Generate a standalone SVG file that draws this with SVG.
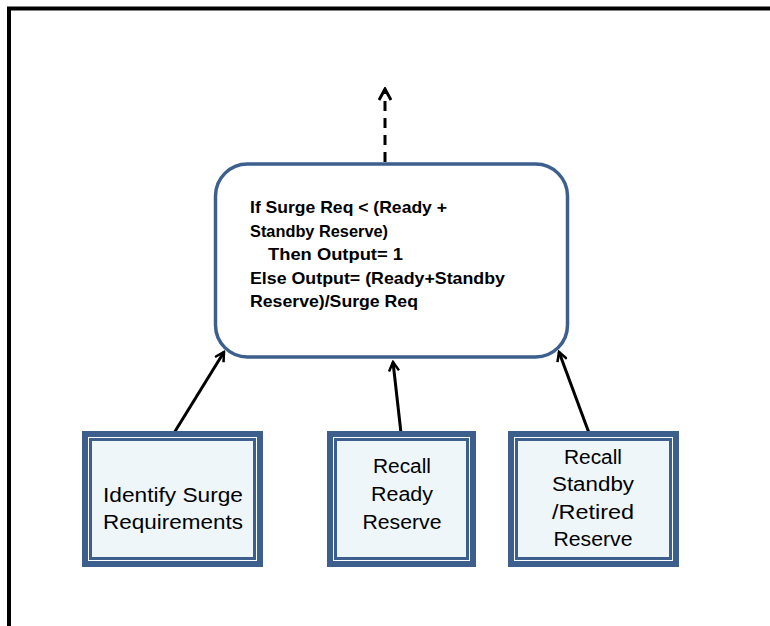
<svg xmlns="http://www.w3.org/2000/svg" width="770" height="626" viewBox="0 0 770 626">
<defs>
<marker id="ah" viewBox="0 0 12 12" refX="10" refY="6" markerWidth="12" markerHeight="12" markerUnits="userSpaceOnUse" orient="auto">
<path d="M1,1 L10,6 L1,11" fill="none" stroke="#000" stroke-width="2.5"/>
</marker>
<marker id="ah2" viewBox="0 0 14 14" refX="12" refY="7" markerWidth="14" markerHeight="14" markerUnits="userSpaceOnUse" orient="auto">
<path d="M1,1 L12,7 L1,13" fill="none" stroke="#000" stroke-width="3"/>
</marker>
</defs>
<style>
.frame{stroke:#000;stroke-width:4;fill:none}
.outer{fill:#3d5f8e}
.gap{fill:#ffffff}
.inner{fill:#eef6fa;stroke:#3d5f8e;stroke-width:3}
.lbl{font-family:"Liberation Sans",Arial,sans-serif;font-size:20px;fill:#000;text-anchor:middle}
.rule{font-family:"Liberation Sans",Arial,sans-serif;font-size:16.5px;font-weight:bold;fill:#000}
.conn{stroke:#000;stroke-width:3;fill:none}
</style>
<rect width="770" height="626" fill="#fff"/>
<path class="frame" d="M9,626 V8.5 H770"/>
<g id="connectors">
<line class="conn" x1="385" y1="162" x2="385" y2="89" stroke-dasharray="10,7" marker-end="url(#ah2)"/>
<line class="conn" x1="174" y1="433" x2="224" y2="352" marker-end="url(#ah)"/>
<line class="conn" x1="401" y1="433" x2="393" y2="362" marker-end="url(#ah)"/>
<line class="conn" x1="589" y1="433" x2="559" y2="352" marker-end="url(#ah)"/>
</g>
<g id="rule">
<rect x="215.5" y="164" width="352" height="193" rx="32" ry="32" fill="#fff" stroke="#3d5f8e" stroke-width="3.5"/>
<text class="rule" x="250" y="213" textLength="197" lengthAdjust="spacingAndGlyphs">If Surge Req &lt; (Ready +</text>
<text class="rule" x="250" y="237" textLength="138" lengthAdjust="spacingAndGlyphs">Standby Reserve)</text>
<text class="rule" x="268" y="260" textLength="135" lengthAdjust="spacingAndGlyphs">Then Output= 1</text>
<text class="rule" x="250" y="284" textLength="255" lengthAdjust="spacingAndGlyphs">Else Output= (Ready+Standby</text>
<text class="rule" x="250" y="307" textLength="168" lengthAdjust="spacingAndGlyphs">Reserve)/Surge Req</text>
</g>
<g id="identify">
<rect class="outer" x="82" y="431" width="181" height="136"/>
<rect class="gap" x="88" y="437" width="169" height="124"/>
<rect class="inner" x="90.5" y="439.5" width="164" height="119"/>
<text class="lbl" x="173" y="502" textLength="140" lengthAdjust="spacingAndGlyphs">Identify Surge</text>
<text class="lbl" x="173" y="529" textLength="140" lengthAdjust="spacingAndGlyphs">Requirements</text>
</g>
<g id="ready">
<rect class="outer" x="327" y="431" width="149" height="136"/>
<rect class="gap" x="333" y="437" width="137" height="124"/>
<rect class="inner" x="335.5" y="439.5" width="132" height="119"/>
<text class="lbl" x="402" y="473" textLength="58" lengthAdjust="spacingAndGlyphs">Recall</text>
<text class="lbl" x="402" y="501" textLength="62" lengthAdjust="spacingAndGlyphs">Ready</text>
<text class="lbl" x="402" y="529" textLength="79" lengthAdjust="spacingAndGlyphs">Reserve</text>
</g>
<g id="standby">
<rect class="outer" x="508" y="431" width="171" height="136"/>
<rect class="gap" x="514" y="437" width="159" height="124"/>
<rect class="inner" x="516.5" y="439.5" width="154" height="119"/>
<text class="lbl" x="593" y="464" textLength="58" lengthAdjust="spacingAndGlyphs">Recall</text>
<text class="lbl" x="593" y="491" textLength="82" lengthAdjust="spacingAndGlyphs">Standby</text>
<text class="lbl" x="593" y="519" textLength="82" lengthAdjust="spacingAndGlyphs">/Retired</text>
<text class="lbl" x="593" y="546" textLength="79" lengthAdjust="spacingAndGlyphs">Reserve</text>
</g>
</svg>
